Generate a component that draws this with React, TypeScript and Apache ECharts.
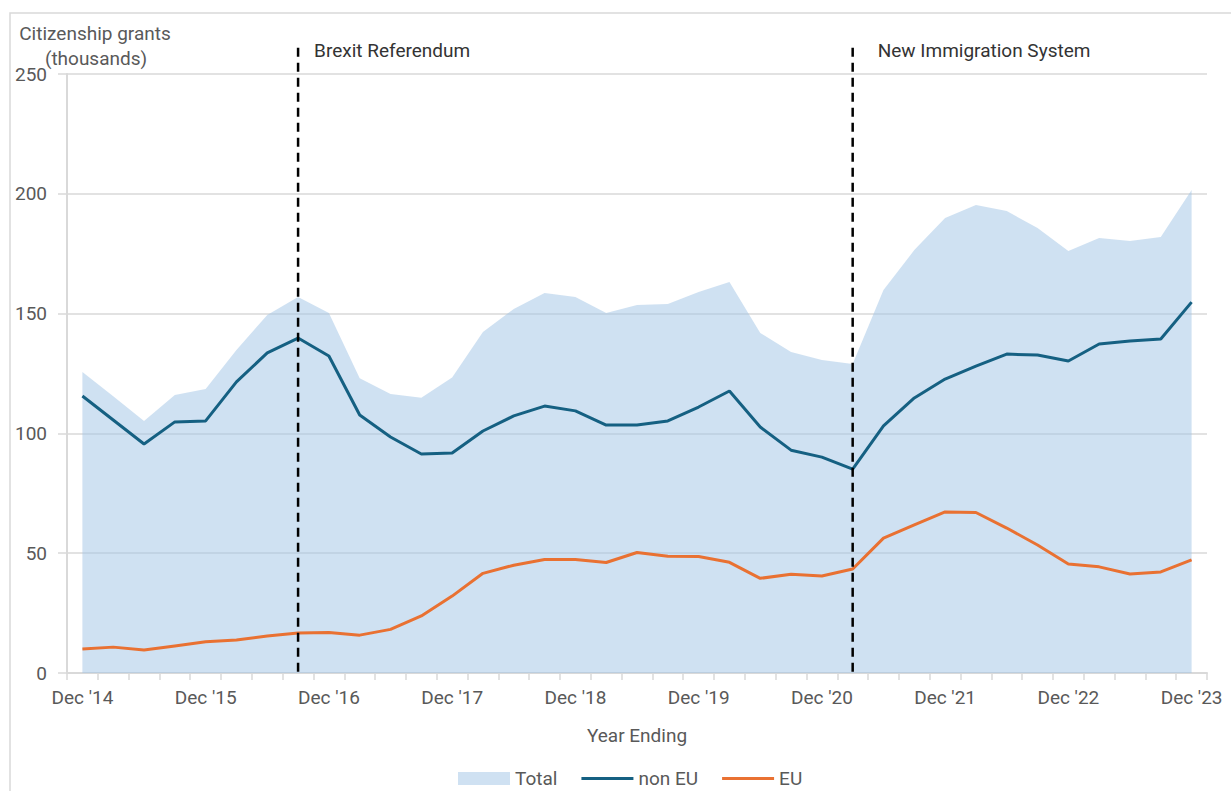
import React, { useEffect, useRef } from "react";
import * as echarts from "echarts";

const categories: string[] = [
  "Dec '14", "Mar '15", "Jun '15", "Sep '15",
  "Dec '15", "Mar '16", "Jun '16", "Sep '16",
  "Dec '16", "Mar '17", "Jun '17", "Sep '17",
  "Dec '17", "Mar '18", "Jun '18", "Sep '18",
  "Dec '18", "Mar '19", "Jun '19", "Sep '19",
  "Dec '19", "Mar '20", "Jun '20", "Sep '20",
  "Dec '20", "Mar '21", "Jun '21", "Sep '21",
  "Dec '21", "Mar '22", "Jun '22", "Sep '22",
  "Dec '22", "Mar '23", "Jun '23", "Sep '23",
  "Dec '23",
];

const totalValues: number[] = [
  125.6, 115.5, 105.2, 116, 118.5, 134.8, 149.4, 156.9, 150.2, 123, 116.4, 114.9,
  123.3, 142.3, 151.9, 158.6, 156.9, 150.2, 153.6, 154, 159, 163.2, 141.9, 134,
  130.6, 129, 159.8, 176.5, 189.9, 195.3, 192.8, 185.7, 176.1, 181.6, 180.3, 182,
  201.6,
];

const nonEuValues: number[] = [
  115.6, 105.6, 95.6, 104.8, 105.2, 121.5, 133.6, 139.8, 132.3, 107.7, 98.5, 91.4,
  91.8, 101, 107.3, 111.4, 109.4, 103.5, 103.5, 105.2, 111, 117.7, 102.7, 93,
  90.1, 85.1, 103.1, 114.8, 122.7, 128.1, 133.1, 132.7, 130.2, 137.3, 138.6, 139.4,
  154.8,
];

const euValues: number[] = [
  10, 10.8, 9.6, 11.3, 13, 13.8, 15.4, 16.7, 16.9, 15.8, 18.2, 23.8,
  32.1, 41.6, 45, 47.4, 47.4, 46.1, 50.3, 48.7, 48.6, 46.2, 39.5, 41.2,
  40.5, 43.4, 56.3, 61.8, 67.2, 67, 60.5, 53.4, 45.5, 44.3, 41.3, 42.2,
  47.2,
];

const yTicks = { min: 0, max: 250, interval: 50 };

const eventIndices: number[] = [7, 25];
const eventLabels: string[] = ["Brexit Referendum", "New Immigration System"];
const eventLabelOffsets: number[] = [16, 25];

const FONT = "Roboto, 'Liberation Sans', sans-serif";
const FS = 19;
const TEXT = "#595959";
const GRID = "#d9d9d9";
const LINE_ICON = "path://M0,0H52V3H0Z";

export default function App() {
  const ref = useRef<HTMLDivElement>(null);

  useEffect(() => {
    document.body.style.margin = "0";
    if (!ref.current) return;
    const chart = echarts.init(ref.current, null, { renderer: "svg" });

    chart.setOption({
      animation: false,
      backgroundColor: "#ffffff",
      textStyle: { fontFamily: FONT },
      grid: { left: 67, right: 24, top: 74, bottom: 118, containLabel: false },
      legend: {
        left: 458,
        top: 769,
        padding: 0,
        itemWidth: 52,
        itemHeight: 13,
        itemGap: 24,
        symbolKeepAspect: true,
        textStyle: { color: TEXT, fontSize: FS, fontFamily: FONT, lineHeight: 19 },
        data: [
          { name: "Total", icon: "rect" },
          { name: "non EU", icon: LINE_ICON },
          { name: "EU", icon: LINE_ICON },
        ],
      },
      xAxis: {
        type: "category",
        data: categories,
        boundaryGap: true,
        name: "Year Ending",
        nameLocation: "middle",
        nameGap: 53,
        nameTextStyle: { color: TEXT, fontSize: FS, fontFamily: FONT },
        axisLine: { lineStyle: { color: GRID, width: 2 } },
        axisTick: { show: true, interval: 0, length: 7, lineStyle: { color: GRID, width: 1.5 } },
        axisLabel: { interval: 3, color: TEXT, fontSize: FS, margin: 15, fontFamily: FONT },
        splitLine: { show: false },
      },
      yAxis: {
        type: "value",
        min: yTicks.min,
        max: yTicks.max,
        interval: yTicks.interval,
        axisLine: { show: true, lineStyle: { color: GRID, width: 2 } },
        axisTick: { show: true, length: 9, lineStyle: { color: GRID, width: 1.5 } },
        axisLabel: { color: TEXT, fontSize: FS, margin: 20, fontFamily: FONT },
        splitLine: { show: true, lineStyle: { color: GRID, width: 1.5 } },
      },
      series: [
        {
          name: "Total",
          type: "line",
          data: totalValues,
          symbol: "none",
          lineStyle: { width: 0, opacity: 0 },
          itemStyle: { color: "#cfe1f2" },
          areaStyle: { color: "rgba(160,196,230,0.5)", opacity: 1 },
          z: 1,
        },
        {
          name: "non EU",
          type: "line",
          data: nonEuValues,
          symbol: "none",
          lineStyle: { width: 3, color: "#156082" },
          itemStyle: { color: "#156082" },
          z: 3,
        },
        {
          name: "EU",
          type: "line",
          data: euValues,
          symbol: "none",
          lineStyle: { width: 3, color: "#e97132" },
          itemStyle: { color: "#e97132" },
          z: 3,
        },
      ],
    });

    const yBottom = chart.convertToPixel({ yAxisIndex: 0 }, 0) as number;
    const yTop = chart.convertToPixel({ yAxisIndex: 0 }, 261) as number;

    const graphics: any[] = [
      {
        type: "rect",
        shape: { x: 10, y: 13, width: 1400, height: 1000 },
        style: { fill: "none", stroke: GRID, lineWidth: 1.5 },
        silent: true,
      },
      {
        type: "text",
        x: 95,
        y: 33,
        style: {
          text: "Citizenship grants",
          fill: TEXT,
          font: `${FS}px ${FONT}`,
          textAlign: "center",
          textVerticalAlign: "middle",
        },
      },
      {
        type: "text",
        x: 96,
        y: 58,
        style: {
          text: "(thousands)",
          fill: TEXT,
          font: `${FS}px ${FONT}`,
          textAlign: "center",
          textVerticalAlign: "middle",
        },
      },
    ];

    eventIndices.forEach((idx, i) => {
      const x = chart.convertToPixel({ xAxisIndex: 0 }, idx) as number;
      graphics.push({
        type: "line",
        shape: { x1: x, y1: yTop, x2: x, y2: yBottom },
        style: { stroke: "#000000", lineWidth: 2.5, lineDash: [9, 6] },
        z: 10,
        silent: true,
      });
      graphics.push({
        type: "text",
        x: x + eventLabelOffsets[i],
        y: 50,
        style: {
          text: eventLabels[i],
          fill: "#333333",
          font: `${FS}px ${FONT}`,
          textAlign: "left",
          textVerticalAlign: "middle",
        },
        z: 10,
      });
    });

    chart.setOption({ graphic: graphics });

    return () => chart.dispose();
  }, []);

  return <div ref={ref} style={{ width: 1231, height: 791 }} />;
}
